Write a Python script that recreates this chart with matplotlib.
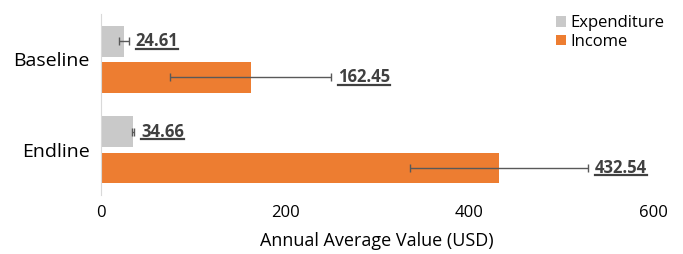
import numpy as np
import matplotlib
matplotlib.use('Agg')
import matplotlib.pyplot as plt
from matplotlib.lines import Line2D

# ─── Datos ────────────────────────────────────────────────────────────────────
CATEGORIAS   = ["Baseline", "Endline"]
EXPENDITURE  = [24.61, 34.66]
EXP_ERR      = [5.5, 1.5]
INCOME       = [162.45, 432.54]
INC_ERR      = [87.5, 96.5]
XTICKS       = [0, 200, 400, 600]

GRIS    = "#C9C9C9"
NARANJA = "#ED7D31"
TEXTO   = "#404040"

plt.rcParams.update({
    "font.family": ["Open Sans", "DejaVu Sans"],
    "font.size": 12,
})

fig = plt.figure(figsize=(6.83, 2.54), dpi=100)
ax = fig.add_axes([0.148, 0.232, 0.808, 0.713])

pos = np.array([1, 0])  # Baseline arriba
h = 0.34
off = 0.2

err_kw = dict(ecolor="#595959", elinewidth=1.0, capsize=3, capthick=1.0)
ax.barh(pos + off, EXPENDITURE, height=h, color=GRIS, xerr=EXP_ERR,
        error_kw=err_kw, label="Expenditure")
ax.barh(pos - off, INCOME, height=h, color=NARANJA, xerr=INC_ERR,
        error_kw=err_kw, label="Income")

ax.set_xlim(0, 600)
ax.set_ylim(-0.5, 1.5)
ax.set_xticks(XTICKS)
ax.set_xticklabels([str(x) for x in XTICKS], fontsize=12)
ax.set_yticks(pos)
ax.set_yticklabels(CATEGORIAS, fontsize=14, color="black")
ax.tick_params(axis="both", length=0)
ax.tick_params(axis="x", pad=7, colors="black")
ax.tick_params(axis="y", pad=8)
for s in ["top", "right", "bottom"]:
    ax.spines[s].set_visible(False)
ax.spines["left"].set_color("#D9D9D9")
ax.set_xlabel("Annual Average Value (USD)", fontsize=13, labelpad=8)

# ─── Etiquetas subrayadas ─────────────────────────────────────────────────────
textos = []
for vals, errs, dy in [(EXPENDITURE, EXP_ERR, off), (INCOME, INC_ERR, -off)]:
    for p, v, e in zip(pos, vals, errs):
        t = ax.annotate(f"{v:.2f}", xy=(v + e, p + dy), xytext=(5, 0),
                        textcoords="offset points", va="center", ha="left",
                        fontsize=12, fontweight="bold", color=TEXTO)
        textos.append(t)

fig.legend(loc="upper right", bbox_to_anchor=(0.99, 0.985), frameon=False,
           fontsize=12, handlelength=0.6, handleheight=0.6, handletextpad=0.3,
           labelspacing=0.15, borderaxespad=0.3)

fig.canvas.draw()
r = fig.canvas.get_renderer()
for t in textos:
    bb = t.get_window_extent(r)
    y = (bb.y0 + 1.5) / fig.bbox.height
    fig.add_artist(Line2D([bb.x0 / fig.bbox.width, bb.x1 / fig.bbox.width], [y, y],
                          color=TEXTO, linewidth=1.6, transform=fig.transFigure))

fig.savefig("out.png", dpi=100, facecolor="white")
